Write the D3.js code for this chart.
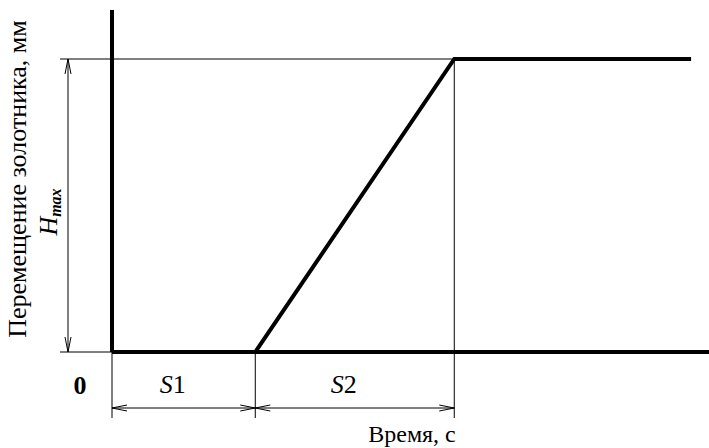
<!DOCTYPE html>
<html>
<head>
<meta charset="utf-8">
<script src="https://d3js.org/d3.v7.min.js"></script>
<style>
  body { margin: 0; background: #fff; }
  text { font-family: "Liberation Serif", "Times New Roman", serif; fill: #000; }
</style>
</head>
<body>
<script>
var w = 709, h = 448;

// spool movement: time points and displacement (fraction of Hmax)
var times = [0, 7.2, 17.2, 29.1];
var moves = [0, 0, 1, 1];
var stages = ["S1", "S2"];
var yTitle = "Перемещение золотника, мм";
var xTitle = "Время, с";

var x = d3.scaleLinear().domain([0, 30]).range([112, 709]);
var y = d3.scaleLinear().domain([0, 1]).range([352, 59]);

var svg = d3.select("body").append("svg").attr("width", w).attr("height", h);

function thin(x1, y1, x2, y2) {
    svg.append("line").attr("x1", x1).attr("y1", y1).attr("x2", x2).attr("y2", y2)
        .attr("stroke", "#000").attr("stroke-width", 1);
}
// open arrowhead at (px,py) pointing along (dx,dy)
function head(px, py, dx, dy) {
    var L = 15, W = 3;
    var nx = -dy, ny = dx;
    svg.append("path")
        .attr("d", "M" + (px - dx * L + nx * W) + "," + (py - dy * L + ny * W) +
            "L" + px + "," + py +
            "L" + (px - dx * L - nx * W) + "," + (py - dy * L - ny * W))
        .attr("fill", "none").attr("stroke", "#000").attr("stroke-width", 1);
}

// guide lines
thin(60, y(1), x(times[2]), y(1));
thin(60, y(0), x(0), y(0));
thin(x(0), y(0), x(0), 418);
thin(x(times[1]), y(0), x(times[1]), 418);
thin(x(times[2]), y(1), x(times[2]), 418);

// Hmax dimension
thin(68, y(1), 68, y(0));
head(68, y(1), 0, -1);
head(68, y(0), 0, 1);

// S1 / S2 dimensions
var dimY = 408;
for (var i = 0; i < 2; i++) {
    var a = x(times[i]), b = x(times[i + 1]);
    thin(a, dimY, b, dimY);
    head(a, dimY, -1, 0);
    head(b, dimY, 1, 0);
    var t = svg.append("text").attr("x", (a + b) / 2 - 11).attr("y", 393)
        .attr("text-anchor", "middle").attr("font-size", 26);
    t.append("tspan").attr("font-style", "italic").text(stages[i][0]);
    t.append("tspan").text(stages[i].slice(1));
}

// axes (thick)
svg.append("line").attr("x1", x(0)).attr("y1", 10).attr("x2", x(0)).attr("y2", y(0))
    .attr("stroke", "#000").attr("stroke-width", 4);
svg.append("line").attr("x1", x(0)).attr("y1", y(0)).attr("x2", x(30)).attr("y2", y(0))
    .attr("stroke", "#000").attr("stroke-width", 4);

// movement curve
svg.append("path")
    .datum(times.map(function(d, i) { return [d, moves[i]]; }))
    .attr("d", d3.line().x(function(d) { return x(d[0]); }).y(function(d) { return y(d[1]); }))
    .attr("fill", "none").attr("stroke", "#000").attr("stroke-width", 4)
    .attr("stroke-linejoin", "miter");

// labels
svg.append("text").attr("x", 80).attr("y", 394).attr("text-anchor", "middle")
    .attr("font-size", 26).attr("font-weight", "bold").text("0");
svg.append("text").attr("x", 412).attr("y", 442).attr("text-anchor", "middle")
    .attr("font-size", 24).text(xTitle);
svg.append("text").attr("transform", "translate(26,179) rotate(-90)")
    .attr("text-anchor", "middle").attr("font-size", 26).text(yTitle);
var hm = svg.append("text").attr("transform", "translate(57,212) rotate(-90)")
    .attr("text-anchor", "middle").attr("font-size", 26).attr("font-style", "italic");
hm.append("tspan").text("H");
hm.append("tspan").attr("font-size", 16).attr("font-weight", "bold").attr("dy", 4).text("max");
</script>
</body>
</html>
